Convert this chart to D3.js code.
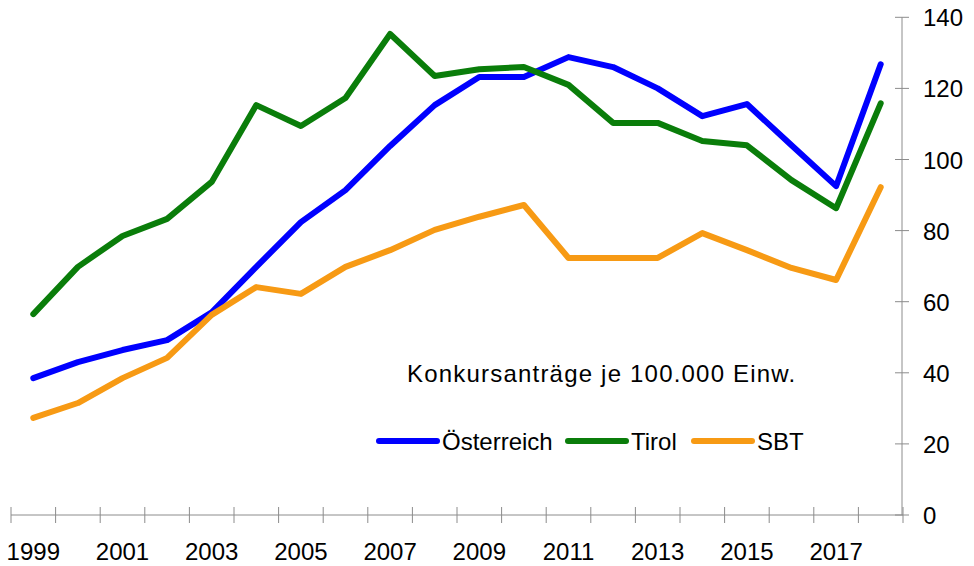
<!DOCTYPE html>
<html>
<head>
<meta charset="utf-8">
<script src="https://cdn.jsdelivr.net/npm/d3@7"></script>
<style>
    body { margin: 0; background: #fff; }
    text { font-family: "Liberation Sans", Arial, sans-serif; fill: #000; }
</style>
</head>
<body>
<div id="chart"></div>
<script>
// Data
var years = [1999, 2000, 2001, 2002, 2003, 2004, 2005, 2006, 2007, 2008,
             2009, 2010, 2011, 2012, 2013, 2014, 2015, 2016, 2017, 2018];
var oesterreich = [38.5, 43, 46.4, 49.2, 57, 69.8, 82.4, 91.4, 103.8, 115.3,
                   123.2, 123.2, 128.8, 126, 120, 112.2, 115.6, 104, 92.5, 126.8];
var tirol = [56.5, 69.8, 78.5, 83.3, 93.7, 115.3, 109.4, 117.3, 135.3, 123.5,
             125.4, 126, 121, 110.3, 110.3, 105.2, 104, 94.2, 86.3, 115.8];
var sbt = [27.3, 31.5, 38.5, 44.2, 56.3, 64.1, 62.2, 69.8, 74.5, 80.2,
           83.9, 87.2, 72.3, 72.3, 72.3, 79.3, 74.5, 69.5, 66.1, 92.2];
var yTicks = [0, 20, 40, 60, 80, 100, 120, 140];
var seriesNames = ["Österreich", "Tirol", "SBT"];
var seriesColors = ["#0000ff", "#0a7d0a", "#f79a14"];

function init() {
    var w = 974;
    var h = 566;

    var svg = d3.select("#chart")
        .append("svg")
        .attr("width", w)
        .attr("height", h);

    // category axis, points sit in the middle of each band
    var x = d3.scaleBand()
        .domain(years)
        .range([11, 903]);

    var y = d3.scaleLinear()
        .domain([0, 140])
        .range([515, 17.3]);

    // x axis line + tick marks
    svg.append("line")
        .attr("x1", 11).attr("x2", 903)
        .attr("y1", y(0)).attr("y2", y(0))
        .attr("stroke", "#8c8c8c").attr("stroke-width", 1);

    var bounds = years.map(d => x(d)).concat([903]);
    svg.selectAll(".xtick")
        .data(bounds)
        .enter()
        .append("line")
        .attr("class", "xtick")
        .attr("x1", d => d).attr("x2", d => d)
        .attr("y1", y(0) - 8).attr("y2", y(0) + 8)
        .attr("stroke", "#8c8c8c").attr("stroke-width", 1);

    svg.selectAll(".xlabel")
        .data(years.filter((d, i) => i % 2 === 0))
        .enter()
        .append("text")
        .attr("class", "xlabel")
        .attr("x", d => x(d) + x.bandwidth() / 2)
        .attr("y", 560)
        .attr("text-anchor", "middle")
        .attr("font-size", 24)
        .text(d => d);

    // y axis on the right
    svg.append("line")
        .attr("x1", 902).attr("x2", 902)
        .attr("y1", y(140)).attr("y2", y(0))
        .attr("stroke", "#8c8c8c").attr("stroke-width", 1);

    svg.selectAll(".ytick")
        .data(yTicks)
        .enter()
        .append("line")
        .attr("class", "ytick")
        .attr("x1", 895).attr("x2", 909)
        .attr("y1", d => y(d)).attr("y2", d => y(d))
        .attr("stroke", "#8c8c8c").attr("stroke-width", 1);

    svg.selectAll(".ylabel")
        .data(yTicks)
        .enter()
        .append("text")
        .attr("class", "ylabel")
        .attr("x", 923)
        .attr("y", d => y(d) + 9)
        .attr("font-size", 24)
        .text(d => d);

    // lines
    var allSeries = [oesterreich, tirol, sbt];
    var line = d3.line()
        .x((d, i) => x(years[i]) + x.bandwidth() / 2)
        .y(d => y(d));

    svg.selectAll(".series")
        .data(allSeries)
        .enter()
        .append("path")
        .attr("class", "series")
        .attr("d", line)
        .attr("fill", "none")
        .attr("stroke", (d, i) => seriesColors[i])
        .attr("stroke-width", 6)
        .attr("stroke-linejoin", "round")
        .attr("stroke-linecap", "round");

    // title inside plot
    svg.append("text")
        .attr("x", 407)
        .attr("y", 382)
        .attr("font-size", 24)
        .attr("letter-spacing", 1.2)
        .text("Konkursanträge je 100.000 Einw.");

    // legend
    var legendX = [379, 568, 694];
    var legend = svg.selectAll(".legend")
        .data(seriesNames)
        .enter()
        .append("g")
        .attr("class", "legend")
        .attr("transform", (d, i) => "translate(" + legendX[i] + ",441)");

    legend.append("line")
        .attr("x1", 0).attr("x2", 58)
        .attr("y1", 0).attr("y2", 0)
        .attr("stroke", (d, i) => seriesColors[i])
        .attr("stroke-width", 6)
        .attr("stroke-linecap", "round");

    legend.append("text")
        .attr("x", 63)
        .attr("y", 9)
        .attr("font-size", 24)
        .text(d => d);
}

window.onload = init;
</script>
</body>
</html>
